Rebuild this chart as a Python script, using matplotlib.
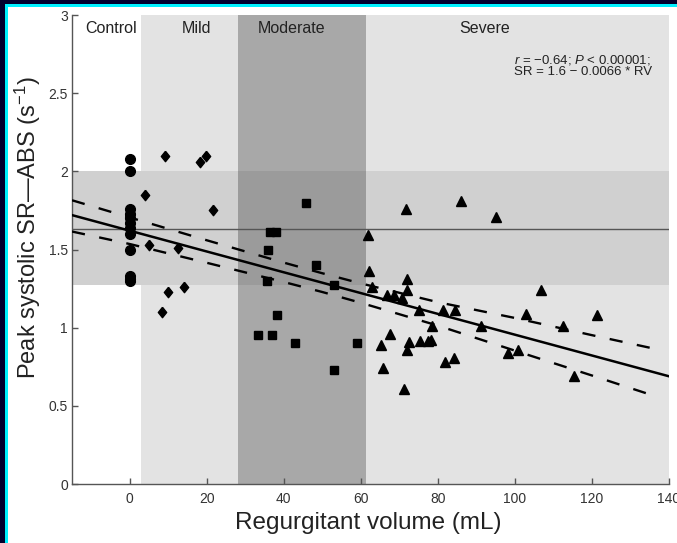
import matplotlib
matplotlib.use("Agg")
import matplotlib.pyplot as plt
from matplotlib.patches import Rectangle

plt.rcParams['font.family'] = ['Liberation Sans', 'DejaVu Sans']
plt.rcParams['mathtext.fontset'] = 'custom'
plt.rcParams['mathtext.rm'] = 'Liberation Sans'
plt.rcParams['mathtext.it'] = 'Liberation Sans:italic'
plt.rcParams['mathtext.bf'] = 'Liberation Sans:bold'
plt.rcParams['lines.scale_dashes'] = False

# ---------------- data ----------------
control_x = [0] * 12
control_y = [2.08, 2.00, 1.76, 1.73, 1.70, 1.67, 1.64, 1.60, 1.50, 1.33, 1.31, 1.30]

mild_x = [9.2, 18.3, 19.7, 4.0, 21.6, 5.0, 12.6, 8.3, 10.0, 14.2]
mild_y = [2.10, 2.06, 2.10, 1.85, 1.75, 1.53, 1.51, 1.10, 1.23, 1.26]

moderate_x = [45.8, 36.3, 38.0, 35.9, 48.3, 35.5, 52.9, 38.1, 33.3, 36.8, 43.0, 59.0, 53.0]
moderate_y = [1.80, 1.61, 1.61, 1.50, 1.40, 1.30, 1.27, 1.08, 0.95, 0.95, 0.90, 0.90, 0.73]

severe_x = [61.9, 62.2, 63.0, 66.9, 68.6, 70.6, 71.9, 71.9, 71.7, 86.0, 95.1, 75.1,
            81.2, 84.4, 78.4, 91.2, 67.6, 65.2, 72.4, 71.9, 75.3, 77.3, 78.1, 81.8,
            84.2, 65.7, 71.2, 98.2, 100.8, 102.9, 106.7, 112.6, 121.3, 115.3]
severe_y = [1.59, 1.36, 1.26, 1.21, 1.21, 1.19, 1.31, 1.24, 1.76, 1.81, 1.71, 1.11,
            1.11, 1.11, 1.01, 1.01, 0.96, 0.89, 0.91, 0.86, 0.915, 0.915, 0.92, 0.78,
            0.805, 0.74, 0.61, 0.84, 0.855, 1.09, 1.24, 1.01, 1.08, 0.69]

fit_x = [-15, 140]
fit_y = [1.72, 0.689]

ci_x = [-15, 0, 20, 40, 50, 60, 80, 100, 120, 137]
ci_upper = [1.815, 1.705, 1.559, 1.416, 1.348, 1.283, 1.163, 1.062, 0.952, 0.861]
ci_lower = [1.615, 1.535, 1.415, 1.292, 1.228, 1.159, 1.013, 0.853, 0.694, 0.557]

control_mean = 1.633
normal_band = (1.27, 2.0)

region_names = ['Control', 'Mild', 'Moderate', 'Severe']
region_edges = [-15, 3, 28, 61.3, 140]
region_label_x = [-4.9, 17.3, 42.0, 92.2]

x_ticks = [0, 20, 40, 60, 80, 100, 120, 140]
y_ticks = [0, 0.5, 1, 1.5, 2, 2.5, 3]
y_tick_labels = ['0', '0.5', '1', '1.5', '2', '2.5', '3']

annot_lines = [r'$r$ = −0.64; $P$ < 0.00001;', 'SR = 1.6 − 0.0066 * RV']

# ---------------- figure ----------------
W, H = 677, 543
fig = plt.figure(figsize=(W / 100, H / 100), dpi=100)
fig.patch.set_facecolor('white')

navy = '#00002e'
cyan = '#00f0ff'
fig.patches.append(Rectangle((0, 0), 5 / W, 1, transform=fig.transFigure, color=navy, lw=0))
fig.patches.append(Rectangle((0, 1 - 4 / H), 1, 4 / H, transform=fig.transFigure, color=navy, lw=0))
fig.patches.append(Rectangle((5 / W, 0), 2.5 / W, 1 - 4 / H, transform=fig.transFigure, color=cyan, lw=0))
fig.patches.append(Rectangle((5 / W, 1 - 6.5 / H), 1, 2.5 / H, transform=fig.transFigure, color=cyan, lw=0))

ax = fig.add_axes([72 / W, 1 - 484 / H, (669 - 72) / W, (484 - 15) / H])
ax.set_xlim(region_edges[0], region_edges[-1])
ax.set_ylim(0, 3)

# shaded regions
ax.axvspan(region_edges[1], region_edges[2], color='#e3e3e3', lw=0, zorder=0)
ax.axvspan(region_edges[3], region_edges[4], color='#e3e3e3', lw=0, zorder=0)
ax.axhspan(normal_band[0], normal_band[1], color='#d0d0d0', lw=0, zorder=0.5)
ax.axvspan(region_edges[2], region_edges[3], color='#878787', alpha=0.72, lw=0, zorder=1)

ax.plot([region_edges[0], region_edges[-1]], [control_mean, control_mean],
        color='#555555', lw=1.0, zorder=2)

ax.plot(fit_x, fit_y, color='black', lw=1.8, zorder=3)
ax.plot(ci_x, ci_upper, color='black', lw=1.7, dashes=(9.5, 10.5), zorder=3)
ax.plot(ci_x, ci_lower, color='black', lw=1.7, dashes=(9.5, 10.5), zorder=3)

diamond = [(0, 1), (0.8, 0), (0, -1), (-0.8, 0), (0, 1)]
ax.plot(control_x, control_y, 'o', color='black', ms=7, zorder=4)
ax.plot(mild_x, mild_y, linestyle='none', marker=diamond, color='black', ms=7.5, zorder=4)
ax.plot(moderate_x, moderate_y, 's', color='black', ms=5.8, zorder=4)
ax.plot(severe_x, severe_y, '^', color='black', ms=7, zorder=4)

for name, xl in zip(region_names, region_label_x):
    ax.text(xl, 2.883, name, ha='center', va='baseline', fontsize=11.5, color='#222222', zorder=5)

ax.text(99.7, 2.691, annot_lines[0], ha='left', va='baseline', fontsize=9.5, color='#222222', zorder=5)
ax.text(99.7, 2.617, annot_lines[1], ha='left', va='baseline', fontsize=9.5, color='#222222', zorder=5)

for s in ['top', 'right']:
    ax.spines[s].set_visible(False)
for s in ['left', 'bottom']:
    ax.spines[s].set_color('#555555')
    ax.spines[s].set_linewidth(1.0)

ax.set_xticks(x_ticks)
ax.set_xticklabels([str(t) for t in x_ticks])
ax.set_yticks(y_ticks)
ax.set_yticklabels(y_tick_labels)
ax.tick_params(axis='both', direction='in', length=4, width=1, color='#555555',
               labelsize=10, labelcolor='#333333')
ax.tick_params(axis='x', pad=6)
ax.tick_params(axis='y', pad=3)

fig.text(368 / W, 1 - 523 / H, 'Regurgitant volume (mL)', ha='center', va='center',
         fontsize=17.5, color='#222222')
fig.text(28 / W, 1 - 228 / H, 'Peak systolic SR—ABS (s$^{-1}$)', ha='center', va='center',
         rotation=90, fontsize=17, color='#222222')

fig.savefig('out.png', dpi=100)
